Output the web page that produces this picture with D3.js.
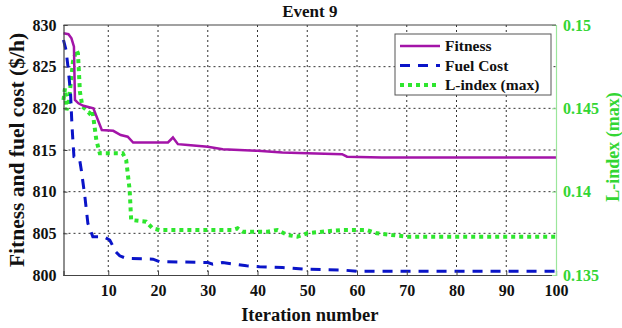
<!DOCTYPE html>
<html>
<head>
<meta charset="utf-8">
<script src="https://cdn.jsdelivr.net/npm/d3@7/dist/d3.min.js"></script>
<style>
  html, body { margin: 0; padding: 0; background: #fff; }
  svg { display: block; }
  text { font-family: "Liberation Serif", "Times New Roman", serif; font-weight: bold; }
</style>
</head>
<body>
<svg id="chart" width="622" height="328"></svg>
<script>
// Convergence of the optimiser for event 9: [iteration, value]
const fitness = [
  [1, 829.0], [2, 828.9], [2.6, 828.4], [3.1, 827.4], [3.3, 821.0], [4, 820.6], [5, 820.3],
  [7, 820.0], [8.7, 817.4], [11, 817.3], [12.5, 816.8], [13.9, 816.6], [15, 815.9],
  [22, 815.9], [23, 816.5], [24, 815.7], [26, 815.6], [30, 815.4], [33, 815.1],
  [40, 814.9], [45, 814.7], [50, 814.6], [57, 814.5], [58, 814.2], [65, 814.1], [100, 814.1]
];
const fuelCost = [
  [1, 828.2], [1.5, 827.0], [1.9, 825.0], [2.4, 822.0], [2.7, 818.0], [2.9, 816.0],
  [3.1, 814.2], [4.2, 814.0], [4.6, 812.5], [5.3, 809.4], [5.9, 806.2], [6.9, 804.6],
  [9, 804.6], [10.3, 804.2], [11.5, 802.8], [12.3, 802.3], [13.6, 802.0], [19, 801.9],
  [20.3, 801.6], [30, 801.5], [31, 801.3], [33, 801.5], [37.8, 801.1], [40.4, 801.0],
  [45, 800.9], [49.8, 800.7], [57, 800.6], [60, 800.45], [100, 800.45]
];
const lIndex = [
  [1, 0.1455], [1.3, 0.1462], [1.6, 0.1449], [2, 0.1452], [2.6, 0.1469], [2.9, 0.1478],
  [3.6, 0.1485], [3.9, 0.1483], [4.1, 0.1472], [4.3, 0.1460], [4.8, 0.1451], [5.6, 0.1449],
  [6.2, 0.1447], [6.8, 0.1449], [7.2, 0.1440], [7.6, 0.1431], [8.3, 0.1423], [12.9, 0.1423],
  [13.6, 0.1419], [14.3, 0.1401], [14.6, 0.1383], [17.6, 0.1382], [18.9, 0.1378],
  [20.3, 0.1377], [35, 0.1377], [36, 0.1378], [37, 0.1376], [42, 0.1376], [44, 0.1377],
  [46, 0.1374], [48, 0.1373], [50, 0.1375], [53, 0.1376], [57, 0.1377], [62, 0.1377],
  [64, 0.1375], [70, 0.1373], [100, 0.1373]
];
const xTicks = [10, 20, 30, 40, 50, 60, 70, 80, 90, 100];
const yLeftTicks = [800, 805, 810, 815, 820, 825, 830];
const yRightTicks = [0.135, 0.14, 0.145, 0.15];
const seriesNames = ["Fitness", "Fuel Cost", "L-index (max)"];

const W = 622, H = 328;
const m = { left: 63.5, right: 66, top: 25, bottom: 53 };
const pw = W - m.left - m.right, ph = H - m.top - m.bottom;

const purple = "#a314a8", blue = "#0a14c8", green = "#2ee62e", greenText = "#33d633", greenAxis = "#9be69b";

const svg = d3.select("#chart");
const g = svg.append("g").attr("transform", `translate(${m.left},${m.top})`);

const x = d3.scaleLinear().domain([1, 100]).range([0, pw]);
const yL = d3.scaleLinear().domain([800, 830]).range([ph, 0]);
const yR = d3.scaleLinear().domain([0.135, 0.15]).range([ph, 0]);

// dotted grid
const grid = g.append("g");
grid.selectAll("line.v").data(xTicks.filter(d => d < 100)).join("line")
  .attr("x1", d => x(d)).attr("x2", d => x(d)).attr("y1", 0).attr("y2", ph)
  .attr("stroke", "#333").attr("stroke-width", 1).attr("stroke-dasharray", "2,3");
grid.selectAll("line.h").data(yLeftTicks.filter(d => d > 800 && d < 830)).join("line")
  .attr("x1", 0).attr("x2", pw).attr("y1", d => yL(d)).attr("y2", d => yL(d))
  .attr("stroke", "#333").attr("stroke-width", 1).attr("stroke-dasharray", "2,3");

// series
const lineL = d3.line().x(d => x(d[0])).y(d => yL(d[1]));
const lineR = d3.line().x(d => x(d[0])).y(d => yR(d[1]));
g.append("path").datum(lIndex).attr("d", lineR).attr("fill", "none")
  .attr("stroke", green).attr("stroke-width", 4).attr("stroke-dasharray", "4,4");
g.append("path").datum(fuelCost).attr("d", lineL).attr("fill", "none")
  .attr("stroke", blue).attr("stroke-width", 3).attr("stroke-dasharray", "10,8");
g.append("path").datum(fitness).attr("d", lineL).attr("fill", "none")
  .attr("stroke", purple).attr("stroke-width", 2.5);

// axes
const xAxis = g.append("g").attr("transform", `translate(0,${ph})`)
  .call(d3.axisBottom(x).tickValues(xTicks).tickSize(-4).tickPadding(10).tickFormat(d3.format("d")));
const yAxisL = g.append("g")
  .call(d3.axisLeft(yL).tickValues(yLeftTicks).tickSize(-4).tickPadding(7).tickFormat(d3.format("d")));
const yAxisR = g.append("g").attr("transform", `translate(${pw},0)`)
  .call(d3.axisRight(yR).tickValues(yRightTicks).tickSize(-4).tickPadding(7).tickFormat(d => String(+d.toFixed(3))));
[xAxis, yAxisL].forEach(a => {
  a.select(".domain").attr("stroke", "#444").attr("stroke-width", 1.2);
  a.selectAll(".tick line").attr("stroke", "#444");
  a.selectAll("text").attr("fill", "#111").style("font-size", "16px");
});
yAxisR.select(".domain").attr("stroke", greenAxis).attr("stroke-width", 1.2);
yAxisR.selectAll(".tick line").attr("stroke", greenAxis);
yAxisR.selectAll("text").attr("fill", greenText).style("font-size", "16px");

// top border
g.append("line").attr("x1", 0).attr("x2", pw).attr("y1", 0).attr("y2", 0)
  .attr("stroke", "#444").attr("stroke-width", 1.2);

// titles
svg.append("text").attr("x", m.left + pw / 2).attr("y", 17).attr("text-anchor", "middle")
  .style("font-size", "17px").attr("fill", "#111").text("Event 9");
svg.append("text").attr("x", m.left + pw / 2).attr("y", 321).attr("text-anchor", "middle")
  .style("font-size", "18.5px").attr("fill", "#111").text("Iteration number");
svg.append("text").attr("transform", `translate(24,${m.top + ph / 2}) rotate(-90)`)
  .attr("text-anchor", "middle").style("font-size", "21.5px").attr("fill", "#111")
  .text("Fitness and fuel cost ($/h)");
svg.append("text").attr("transform", `translate(619,${m.top + ph / 2 - 3}) rotate(-90)`)
  .attr("text-anchor", "middle").style("font-size", "18px").attr("fill", greenText)
  .text("L-index (max)");

// legend
const lg = svg.append("g").attr("transform", "translate(395,34)");
lg.append("rect").attr("width", 156).attr("height", 61).attr("fill", "#fff")
  .attr("stroke", "#555").attr("stroke-width", 1);
const styles = [
  { color: purple, w: 2.5, dash: null },
  { color: blue, w: 3, dash: "10,8" },
  { color: green, w: 4, dash: "4,4" }
];
seriesNames.forEach((name, i) => {
  const yy = 12 + i * 19.5;
  lg.append("line").attr("x1", 5).attr("x2", 45).attr("y1", yy).attr("y2", yy)
    .attr("stroke", styles[i].color).attr("stroke-width", styles[i].w)
    .attr("stroke-dasharray", styles[i].dash);
  lg.append("text").attr("x", 50).attr("y", yy + 5).style("font-size", "15.5px")
    .attr("fill", "#111").text(name);
});
</script>
</body>
</html>
